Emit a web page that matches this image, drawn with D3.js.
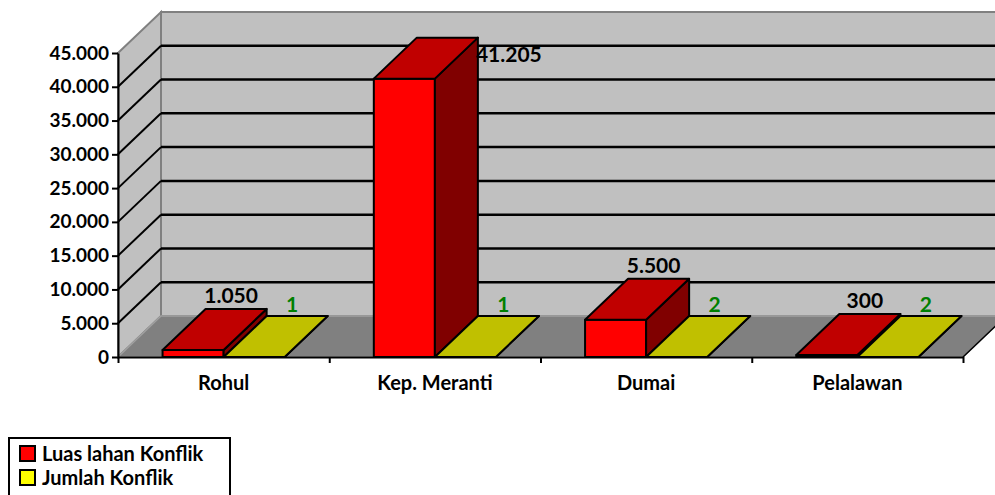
<!DOCTYPE html>
<html>
<head>
<meta charset="utf-8">
<script src="https://cdn.jsdelivr.net/npm/d3@7"></script>
<style>
  body { margin: 0; background: #fff; }
  svg text { font-family: Lato, "Open Sans", sans-serif; font-weight: bold; }
</style>
</head>
<body>
<svg id="chart" width="995" height="495"></svg>
<script>
var categories = ["Rohul", "Kep. Meranti", "Dumai", "Pelalawan"];
var seriesNames = ["Luas lahan Konflik", "Jumlah Konflik"];
var luasLahan = [1050, 41205, 5500, 300];
var jumlahKonflik = [1, 1, 2, 2];
var yTicks = [0, 5000, 10000, 15000, 20000, 25000, 30000, 35000, 40000, 45000];

var W = 995, H = 495;
var m = { left: 118, right: 32, top: 53, bottom: 138 };
var depth = { dx: 43, dy: -41 };   // oblique offset of the back wall

var svg = d3.select("#chart");

var x = d3.scaleBand().domain(categories).range([m.left, W - m.right]).padding(0);
var xIn = d3.scaleBand().domain(seriesNames).range([0, x.bandwidth()]).paddingInner(0).paddingOuter(0.73);
var y = d3.scaleLinear().domain([0, 45000]).range([H - m.bottom, m.top]);

var y0 = y(0), yTop = y(45000);
var x0 = m.left, x1 = W - m.right;

// colours per series: front, top, side
var colors = [
    { front: "#ff0000", top: "#c00000", side: "#800000" },
    { front: "#ffff00", top: "#c0c000", side: "#808000" }
];

function pts(arr) { return arr.map(function (p) { return p.join(","); }).join(" "); }

// walls
svg.append("polygon")  // back wall
    .attr("points", pts([[x0 + depth.dx, yTop + depth.dy], [x1 + depth.dx, yTop + depth.dy],
                         [x1 + depth.dx, y0 + depth.dy], [x0 + depth.dx, y0 + depth.dy]]))
    .attr("fill", "#c0c0c0").attr("stroke", "#808080").attr("stroke-width", 2);
svg.append("polygon")  // side wall
    .attr("points", pts([[x0, yTop], [x0 + depth.dx, yTop + depth.dy],
                         [x0 + depth.dx, y0 + depth.dy], [x0, y0]]))
    .attr("fill", "#c0c0c0").attr("stroke", "#808080").attr("stroke-width", 2);
svg.append("polygon")  // floor
    .attr("points", pts([[x0, y0], [x0 + depth.dx, y0 + depth.dy],
                         [x1 + depth.dx, y0 + depth.dy], [x1, y0]]))
    .attr("fill", "#808080").attr("stroke", "#a0a0a0").attr("stroke-width", 1.5);
svg.append("line")  // floor right edge
    .attr("x1", x1).attr("y1", y0).attr("x2", x1 + depth.dx).attr("y2", y0 + depth.dy)
    .attr("stroke", "#000").attr("stroke-width", 1.5);

// gridlines on back + side wall
var gridVals = yTicks.filter(function (d) { return d > 0 && d < 45000; });
svg.append("g").selectAll("line.back").data(gridVals).enter().append("line")
    .attr("x1", x0 + depth.dx).attr("x2", x1 + depth.dx)
    .attr("y1", function (d) { return y(d) + depth.dy; })
    .attr("y2", function (d) { return y(d) + depth.dy; })
    .attr("stroke", "#000").attr("stroke-width", 2.5);
svg.append("g").selectAll("line.side").data(gridVals).enter().append("line")
    .attr("x1", x0).attr("x2", x0 + depth.dx)
    .attr("y1", function (d) { return y(d); })
    .attr("y2", function (d) { return y(d) + depth.dy; })
    .attr("stroke", "#000").attr("stroke-width", 2);

// bars, left to right
var seriesData = [luasLahan, jumlahKonflik];
var bars = [];
categories.forEach(function (c, i) {
    seriesNames.forEach(function (s, j) {
        bars.push({ cat: c, series: j, value: seriesData[j][i], x: x(c) + xIn(s), w: xIn.bandwidth() });
    });
});

var gBars = svg.append("g");
bars.forEach(function (b) {
    var col = colors[b.series];
    var yt = y(b.value);
    var L = b.x, R = b.x + b.w;
    var g = gBars.append("g").attr("stroke", "#000").attr("stroke-width", 2).attr("stroke-linejoin", "round");
    g.append("polygon") // front
        .attr("points", pts([[L, yt], [R, yt], [R, y0], [L, y0]]))
        .attr("fill", col.front);
    g.append("polygon") // side
        .attr("points", pts([[R, yt], [R + depth.dx, yt + depth.dy], [R + depth.dx, y0 + depth.dy], [R, y0]]))
        .attr("fill", col.side);
    g.append("polygon") // top
        .attr("points", pts([[L, yt], [L + depth.dx, yt + depth.dy], [R + depth.dx, yt + depth.dy], [R, yt]]))
        .attr("fill", col.top);
});

// axes
var fmt = function (d) { return d3.format(",")(d).replace(/,/g, "."); };
var gy = svg.append("g")
    .attr("transform", "translate(" + x0 + ",0)")
    .call(d3.axisLeft(y).tickValues(yTicks).tickSize(6).tickSizeOuter(0).tickPadding(3).tickFormat(fmt));
gy.selectAll("text").style("font-size", "19px").attr("fill", "#000");
gy.selectAll("line, path").attr("stroke", "#000").attr("stroke-width", 2);

var xEdges = d3.scaleLinear().domain([0, categories.length]).range([x0, x1]);
var gxTicks = svg.append("g")
    .attr("transform", "translate(0," + y0 + ")")
    .call(d3.axisBottom(xEdges).tickValues(d3.range(categories.length + 1)).tickSize(6).tickSizeOuter(0).tickFormat(""));
gxTicks.selectAll("line, path").attr("stroke", "#000").attr("stroke-width", 2);

var gx = svg.append("g")
    .attr("transform", "translate(0," + y0 + ")")
    .call(d3.axisBottom(x).tickSize(0).tickPadding(19));
gx.select(".domain").remove();
gx.selectAll("text").style("font-size", "20px").attr("fill", "#000");

// data labels
var gLab = svg.append("g");
bars.forEach(function (b) {
    var yt = y(b.value);
    var cx = b.x + b.w / 2;
    var t = gLab.append("text")
        .style("font-size", "21px")
        .attr("fill", b.series === 0 ? "#000" : "#008000")
        .text(fmt(b.value));
    if (b.series === 0 && yt + depth.dy - 6 < yTop) {
        // no room above the plot: put it beside the bar
        t.attr("x", b.x + b.w + depth.dx - 2).attr("y", yt - 17).attr("text-anchor", "start");
    } else if (b.series === 0) {
        t.attr("x", cx + 38).attr("y", yt + depth.dy - 6).attr("text-anchor", "middle");
    } else {
        t.attr("x", cx + 38).attr("y", yt + depth.dy - 4).attr("text-anchor", "middle");
    }
});

// legend
var lg = svg.append("g").attr("transform", "translate(9,438)");
lg.append("rect").attr("width", 221).attr("height", 80)
    .attr("fill", "#fff").attr("stroke", "#000").attr("stroke-width", 2);
seriesNames.forEach(function (s, j) {
    var row = lg.append("g").attr("transform", "translate(11," + (8 + j * 24) + ")");
    row.append("rect").attr("width", 15).attr("height", 15)
        .attr("fill", colors[j].front).attr("stroke", "#000").attr("stroke-width", 2);
    row.append("text").attr("x", 22).attr("y", 15).style("font-size", "20px").attr("fill", "#000").text(s);
});
</script>
</body>
</html>
